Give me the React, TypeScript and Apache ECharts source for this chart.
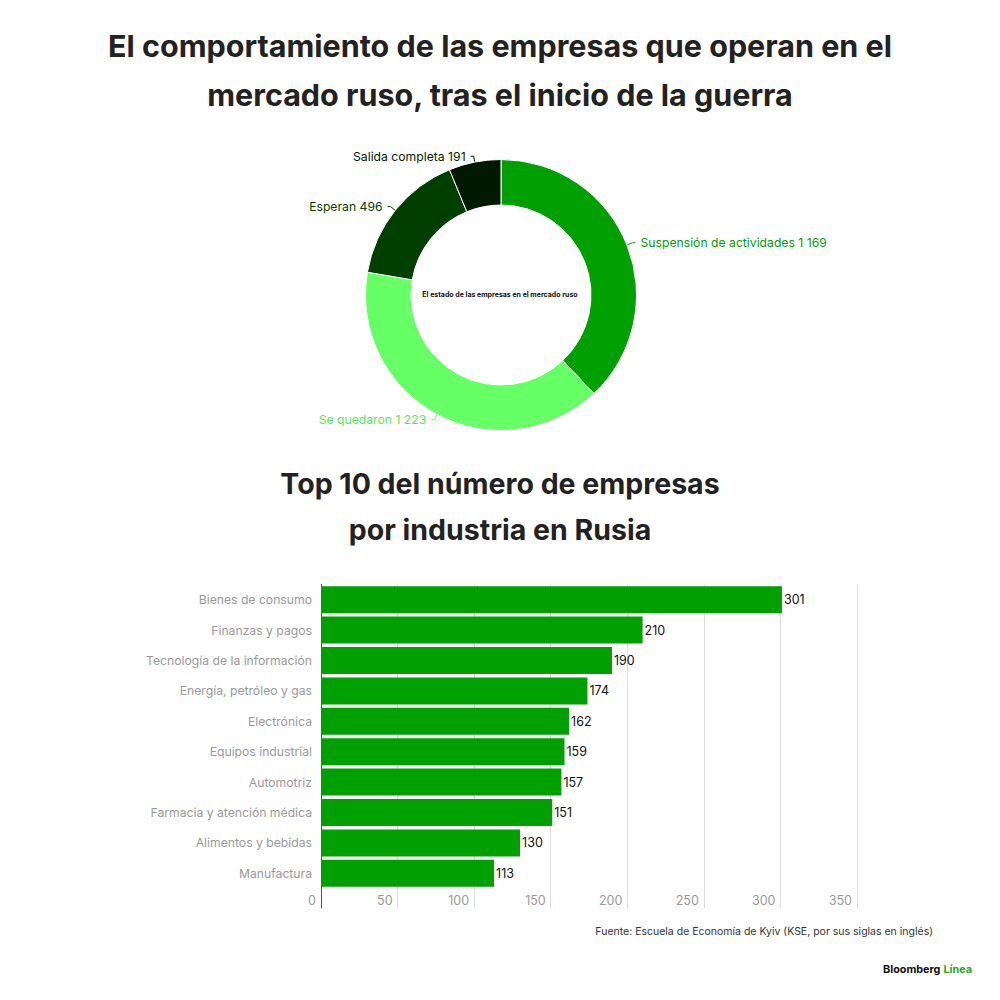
import React, { useEffect, useRef } from "react";
import * as echarts from "echarts";

const pieNames = ["Suspensión de actividades", "Se quedaron", "Esperan", "Salida completa"];
const pieValues = [1169, 1223, 496, 191];
const pieColors = ["#00a000", "#66ff66", "#003f00", "#001a00"];

const categories = [
  "Bienes de consumo",
  "Finanzas y pagos",
  "Tecnología de la información",
  "Energía, petróleo y gas",
  "Electrónica",
  "Equipos industrial",
  "Automotriz",
  "Farmacia y atención médica",
  "Alimentos y bebidas",
  "Manufactura",
];
const barValues = [301, 210, 190, 174, 162, 159, 157, 151, 130, 113];

const titleLines = [
  "El comportamiento de las empresas que operan en el",
  "mercado ruso, tras el inicio de la guerra",
];
const subtitleLines = ["Top 10 del número de empresas", "por industria en Rusia"];
const centerText = "El estado de las empresas en el mercado ruso";
const sourceText = "Fuente: Escuela de Economía de Kyiv (KSE, por sus siglas en inglés)";

const FONT = "Inter, 'Noto Sans', sans-serif";

function fmt(v: number): string {
  return String(v).replace(/\B(?=(\d{3})+(?!\d))/g, " ");
}

export default function App() {
  const ref = useRef<HTMLDivElement>(null);
  useEffect(() => {
    if (!ref.current) return;
    const chart = echarts.init(ref.current, undefined, { renderer: "svg" });
    const titleStyle = { fontSize: 30.5, fontWeight: 700, color: "#222", fontFamily: FONT };
    const subStyle = { fontSize: 28.5, fontWeight: 700, color: "#222", fontFamily: FONT };
    const axisLabelStyle = { color: "#999", fontSize: 12.2, fontFamily: FONT };
    chart.setOption({
      animation: false,
      backgroundColor: "#fff",
      title: [
        { text: titleLines[0], left: "center", top: 30, padding: 0, textStyle: titleStyle },
        { text: titleLines[1], left: "center", top: 79, padding: 0, textStyle: titleStyle },
        { text: subtitleLines[0], left: "center", top: 469, padding: 0, textStyle: subStyle },
        { text: subtitleLines[1], left: "center", top: 515, padding: 0, textStyle: subStyle },
        {
          text: centerText,
          left: "center",
          top: 291,
          padding: 0,
          textStyle: { fontSize: 7, fontWeight: 700, color: "#111", fontFamily: FONT },
        },
        {
          text: sourceText,
          right: 67,
          top: 926,
          padding: 0,
          textStyle: { fontSize: 10.5, fontWeight: 400, color: "#333", fontFamily: FONT },
        },
        {
          text: "{b|Bloomberg} {g|Línea}",
          right: 28,
          top: 964,
          padding: 0,
          textStyle: {
            fontSize: 10.8,
            rich: {
              b: { fontSize: 10.8, fontWeight: 700, color: "#111", fontFamily: FONT },
              g: { fontSize: 10.8, fontWeight: 700, color: "#22a822", fontFamily: FONT },
            },
          },
        },
      ],
      grid: [
        { left: 321, right: 143, top: 584.5, height: 304 },
        { left: 321, right: 143, top: 888.5, height: 19.5 },
      ],
      xAxis: [
        {
          gridIndex: 0,
          type: "value",
          min: 0,
          max: 350,
          interval: 50,
          axisLine: { show: false },
          axisTick: { show: false },
          axisLabel: { show: false },
          splitLine: { lineStyle: { color: "#dddddd", width: 1 } },
        },
        {
          gridIndex: 1,
          type: "value",
          min: 0,
          max: 350,
          interval: 50,
          axisLine: { show: false },
          axisTick: { show: false },
          axisLabel: { ...axisLabelStyle, fontSize: 12.5, inside: true, margin: 1, align: "right", padding: [0, 5, 0, 0] },
          splitLine: { lineStyle: { color: "#dddddd", width: 1 } },
        },
      ],
      yAxis: [
        {
          gridIndex: 0,
          type: "category",
          data: categories,
          inverse: true,
          axisLine: { show: true, lineStyle: { color: "#555", width: 1 } },
          axisTick: { show: false },
          axisLabel: { ...axisLabelStyle, margin: 9 },
        },
        {
          gridIndex: 1,
          type: "value",
          min: 0,
          max: 1,
          axisLine: { show: true, lineStyle: { color: "#555", width: 1 } },
          axisTick: { show: false },
          axisLabel: { show: false },
          splitLine: { show: false },
        },
      ],
      series: [
        {
          type: "pie",
          center: [501, 295],
          radius: [90, 135.5],
          startAngle: 90,
          clockwise: true,
          avoidLabelOverlap: false,
          itemStyle: { borderColor: "#fff", borderWidth: 1 },
          label: {
            show: true,
            position: "outside",
            fontSize: 12.2,
            fontFamily: FONT,
            formatter: (p: any) => `${p.name} ${fmt(p.value)}`,
          },
          labelLine: { show: true, length: 6, length2: 3, lineStyle: { width: 1 } },
          emphasis: { disabled: true },
          data: pieNames.map((n, i) => ({
            name: n,
            value: pieValues[i],
            itemStyle: { color: pieColors[i] },
            label: { color: pieColors[i] === "#66ff66" ? "#55e855" : pieColors[i] },
          })),
        },
        {
          type: "bar",
          xAxisIndex: 0,
          yAxisIndex: 0,
          data: barValues,
          barWidth: 27,
          itemStyle: { color: "#00a000" },
          label: {
            show: true,
            position: "right",
            distance: 2,
            color: "#111",
            fontSize: 12.5,
            fontFamily: FONT,
          },
          emphasis: { disabled: true },
        },
      ],
    });
    return () => chart.dispose();
  }, []);
  return (
    <div
      ref={ref}
      style={{ position: "absolute", left: 0, top: 0, width: 1000, height: 1000 }}
    />
  );
}
